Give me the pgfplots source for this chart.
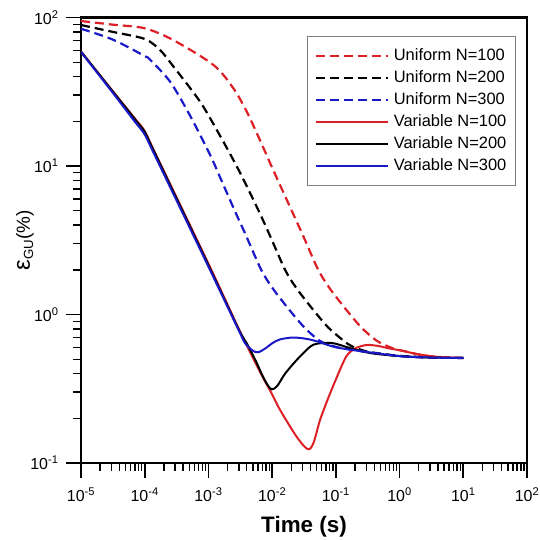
\documentclass[border=0pt]{standalone}
\usepackage{fontspec}
\setmainfont{Liberation Sans}
\usepackage{graphicx}
\usepackage{pgfplots}
\pgfplotsset{compat=1.18}
\definecolor{myred}{RGB}{220,32,38}
\definecolor{myblue}{RGB}{25,25,200}
\begin{document}
\begin{tikzpicture}
\begin{loglogaxis}[
  scale only axis, width=446bp, height=445.5bp,
  xmin=1e-5, xmax=1e2, ymin=1e-1, ymax=1e2,
  axis line style={line width=2.2bp},
  tick align=outside, xtick pos=bottom, ytick pos=left,
  major tick length=15bp, minor tick length=8bp,
  tick style={black, line width=1.6bp},
  minor tick style={black, line width=1.4bp},
  xtick={1e-5,1e-4,1e-3,1e-2,1e-1,1e0,1e1,1e2},
  xticklabels={10\textsuperscript{-5},10\textsuperscript{-4},10\textsuperscript{-3},10\textsuperscript{-2},10\textsuperscript{-1},10\textsuperscript{0},10\textsuperscript{1},10\textsuperscript{2}},
  minor xtick={2e-5,3e-5,4e-5,5e-5,6e-5,7e-5,8e-5,9e-5,
    2e-4,3e-4,4e-4,5e-4,6e-4,7e-4,8e-4,9e-4,
    2e-3,3e-3,4e-3,5e-3,6e-3,7e-3,8e-3,9e-3,
    2e-2,3e-2,4e-2,5e-2,6e-2,7e-2,8e-2,9e-2,
    0.2,0.3,0.4,0.5,0.6,0.7,0.8,0.9,
    2,3,4,5,6,7,8,9,20,30,40,50,60,70,80,90},
  ytick={0.1,1,10,100},
  yticklabels={10\textsuperscript{-1},10\textsuperscript{0},10\textsuperscript{1},10\textsuperscript{2}},
  minor ytick={0.2,0.3,0.4,0.5,0.6,0.7,0.8,0.9,2,3,4,5,6,7,8,9,20,30,40,50,60,70,80,90},
  tick label style={font=\fontsize{16}{19}\selectfont},
  xticklabel style={yshift=-6bp},
  yticklabel style={xshift=-4bp},
  xlabel={\textbf{Time (s)}},
  xlabel style={at={(axis description cs:0.5,-0.1549)}, anchor=base, font=\fontsize{22.5}{26}\selectfont},
  ylabel={{\fontsize{24}{24}\selectfont ε}\textsubscript{GU}(\%)},
  ylabel style={at={(axis description cs:-0.1256,0.5)}, anchor=center, font=\fontsize{19}{23}\selectfont},
  legend style={at={(0.975,0.958)}, anchor=north east, draw=gray, line width=0.9bp,
    font=\fontsize{16.5}{19}\selectfont, cells={anchor=west},
    inner xsep=7bp, inner ysep=10bp, row sep=3bp, column sep=3bp,
    nodes={inner sep=2bp, text height=12bp, text depth=3bp}},
  legend image code/.code={\draw[#1] (0bp,0bp) -- (72bp,0bp);},
]
\coordinate (ll) at (rel axis cs:0,0);
\coordinate (ur) at (rel axis cs:1,1);
% Uniform N=100
\addplot[myred, line width=2.2bp, dash pattern=on 9bp off 5bp, smooth] coordinates {
(1e-5,94.7)(3.16e-5,89.5)(1e-4,84.6)(2.8e-4,70.5)(1.2e-3,47.9)(2.46e-3,33.4)(4e-3,23.2)
(6.46e-3,14.9)(1e-2,9.75)(2e-2,5.07)(3e-2,3.46)(5e-2,2.1)(6.37e-2,1.74)(8e-2,1.50)(0.1,1.32)
(0.15,1.06)(0.25,0.82)(0.44,0.665)(0.8,0.59)(1.3,0.562)(2.1,0.535)(4,0.518)(10,0.51)};
\addlegendentry{Uniform N=100}
% Uniform N=200
\addplot[black, line width=2.2bp, dash pattern=on 9bp off 5bp, smooth] coordinates {
(1e-5,89)(3.16e-5,80)(1e-4,71.7)(1.74e-4,60.4)(2.8e-4,47)(7.4e-4,27.1)(1.52e-3,16.0)
(3.02e-3,9.3)(6.04e-3,5.07)(9.06e-3,3.46)(1.51e-2,2.1)(1.92e-2,1.74)(2.42e-2,1.50)(3.02e-2,1.32)
(4.53e-2,1.06)(7.55e-2,0.82)(0.133,0.665)(0.18,0.61)(0.3,0.565)(0.6,0.54)(1,0.527)(3,0.513)(10,0.51)};
\addlegendentry{Uniform N=200}
% Uniform N=300
\addplot[myblue, line width=2.2bp, dash pattern=on 9bp off 5bp, smooth] coordinates {
(1e-5,84)(3.16e-5,71)(1e-4,55)(1.21e-4,52)(2.5e-4,37)(5.1e-4,22)(1.06e-3,11.9)(1.6e-3,8.0)
(2.55e-3,5.07)(3.82e-3,3.46)(6.37e-3,2.1)(8.1e-3,1.74)(1.02e-2,1.50)(1.274e-2,1.32)(1.91e-2,1.06)
(3.19e-2,0.82)(5.6e-2,0.665)(0.1,0.605)(0.3,0.56)(1,0.525)(3,0.513)(10,0.51)};
\addlegendentry{Uniform N=300}
% Variable N=100
\addplot[myred, line width=2bp, smooth] coordinates {
(1e-5,59)(3e-5,32.8)(7e-5,20.9)(1e-4,17.2)(1.4e-4,12.7)(1e-3,2.2)(3e-3,0.80)(5e-3,0.51)
(7.28e-3,0.372)(1e-2,0.29)(1.33e-2,0.228)(2.43e-2,0.150)(3.62e-2,0.124)(4.44e-2,0.136)
(5.65e-2,0.195)(7.5e-2,0.27)(0.1,0.365)(0.145,0.52)(0.2,0.59)(0.3,0.623)(0.45,0.615)
(0.7,0.59)(1,0.575)(1.65,0.548)(3,0.525)(5,0.515)(10,0.51)};
\addlegendentry{Variable N=100}
% Variable N=200
\addplot[black, line width=2bp, smooth] coordinates {
(1e-5,59)(3e-5,32.6)(7e-5,20.7)(1e-4,17.0)(1.4e-4,12.55)(1e-3,2.15)(3e-3,0.79)(4e-3,0.64)
(5.5e-3,0.49)(7e-3,0.39)(8.5e-3,0.335)(9.86e-3,0.313)(1.2e-2,0.33)(1.6e-2,0.40)(2.43e-2,0.494)
(3.94e-2,0.607)(5e-2,0.635)(7.2e-2,0.645)(0.1,0.635)(0.21,0.577)(0.4,0.545)(1,0.525)(3,0.513)(10,0.51)};
\addlegendentry{Variable N=200}
% Variable N=300
\addplot[myblue, line width=2bp, smooth] coordinates {
(1e-5,58.5)(3e-5,32)(7e-5,19.9)(1e-4,16.3)(1.4e-4,12.1)(1e-3,2.1)(3e-3,0.78)(3.76e-3,0.64)
(5e-3,0.57)(6.07e-3,0.557)(8e-3,0.595)(1e-2,0.64)(1.33e-2,0.68)(2.15e-2,0.70)(3.5e-2,0.685)
(5e-2,0.66)(0.103,0.60)(0.3,0.56)(1,0.525)(3,0.513)(10,0.51)};
\addlegendentry{Variable N=300}
\end{loglogaxis}
\pgfresetboundingbox
\path[use as bounding box] ([shift={(-81bp,-77bp)}]ll) rectangle ([shift={(13bp,17.5bp)}]ur);
\end{tikzpicture}
\end{document}
